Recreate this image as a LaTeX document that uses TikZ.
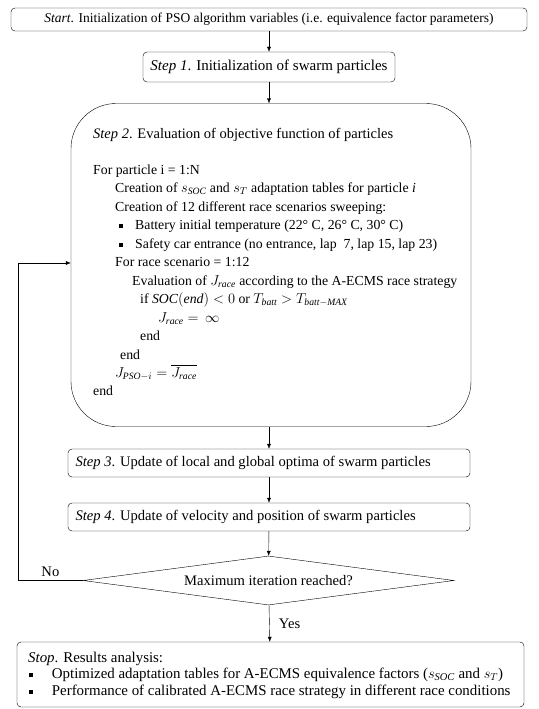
\documentclass[tikz,border=0pt]{standalone}
\usepackage{amsmath,amssymb}
\usepackage{fontspec}
\setmainfont{Liberation Serif}
\usetikzlibrary{positioning,arrows.meta,shapes}
\newcommand{\bul}[1][16pt]{\makebox[#1][l]{\rule[1.5pt]{4pt}{4pt}}}
\def\Jr{J_{\mathit{race}}}

\begin{document}
\begin{tikzpicture}[x=1pt, y=1pt, >={Latex[width=4pt,length=5pt]}, font=\fontsize{14.6}{17}\selectfont,
	box/.style={draw, rounded corners=4pt, inner sep=0pt, thin},
	line/.style={anchor=base west, inner sep=0pt, font=\fontsize{13.8}{16}\selectfont},
	stopline/.style={anchor=base west, inner sep=0pt, font=\fontsize{14.9}{17}\selectfont}]
	\useasboundingbox (0,0) rectangle (538,-709);
	\draw (269.0, -19.5)node[box, minimum width=516, minimum height=23, font=\fontsize{13.5}{15}\selectfont](start){\textit{Start}. Initialization of PSO algorithm variables (i.e. equivalence factor parameters)};
	\draw (269.0, -67.0)node[box, minimum width=252, minimum height=30, font=\fontsize{15}{17}\selectfont](s1){\textit{Step 1}. Initialization of swarm particles};
	\draw (271.0, -265.0)node[draw, thin, rounded corners=45pt, minimum width=400, minimum height=323](s2){};
	\draw (269.0, -463.0)node[box, minimum width=402, minimum height=28](s3){\makebox[387pt][l]{\textit{Step 3}. Update of local and global optima of swarm particles}};
	\draw (269.0, -517.0)node[box, minimum width=402, minimum height=28](s4){\makebox[387pt][l]{\textit{Step 4}. Update of velocity and position of swarm particles}};
	\draw (268.5, -580.5)node[diamond, draw, thin, inner sep=0pt, aspect=7.6, minimum width=371, minimum height=49](dec){Maximum iteration reached?};
	\draw (270.5, -674.5)node[box, minimum width=507, minimum height=65](stop){};
	% text of step 2
	\draw (93, -138.5)node[line, font=\fontsize{14.5}{17}\selectfont](h2){\textit{Step 2}. Evaluation of objective function of particles};
	\draw (93, -174.0)node[line](l1){For particle i = 1:N};
	\draw (115, -192.5)node[line](l2){Creation of $s_{\mathit{SOC}}$ and $s_T$ adaptation tables for particle \textit{i}};
	\draw (115, -211.0)node[line](l3){Creation of 12 different race scenarios sweeping:};
	\draw (119, -229.5)node[line](l4){\bul Battery initial temperature (22° C, 26° C, 30° C)};
	\draw (119, -248.0)node[line](l5){\bul Safety car entrance (no entrance, lap~~7, lap 15, lap 23)};
	\draw (115, -266.5)node[line](l6){For race scenario = 1:12};
	\draw (132, -285.0)node[line](l7){Evaluation of $\Jr$ according to the A-ECMS race strategy};
	\draw (140, -303.5)node[line](l8){if $\mathit{SOC}(\mathit{end})<0$ or $T_{\mathit{batt}}>T_{\mathit{batt}-\mathit{MAX}}$};
	\draw (158, -322.0)node[line](l9){$\Jr=\,\infty$};
	\draw (140, -340.5)node[line](l10){end};
	\draw (120, -359.0)node[line](l11){end};
	\draw (115, -377.5)node[line](l12){$J_{\mathit{PSO}-i}=\overline{\Jr}$};
	\draw (93, -395.0)node[line](l13){end};
	% text of stop
	\draw (28, -662.0)node[stopline](t1){\textit{Stop}. Results analysis:};
	\draw (29, -678.5)node[stopline](t2){\bul[19pt] Optimized adaptation tables for A-ECMS equivalence factors ($s_{\mathit{SOC}}$ and $s_T$)};
	\draw (29, -695.0)node[stopline](t3){\bul[19pt] Performance of calibrated A-ECMS race strategy in different race conditions};
	\coordinate (back) at (18, -263);
	\path[->] (start) edge (s1);
	\path[->] (s1) edge (s1 |- s2.north);
	\path[->] (s3 |- s2.south) edge (s3);
	\path[->] (s3) edge (s4);
	\path[->] (s4) edge (dec);
	\path[->] (dec) edge node[right=6pt]{Yes}(stop);
	\draw[->] (dec.west) -| node[pos=0.25, above]{No} (back) -- (back -| s2.west);
	\end{tikzpicture}
\end{document}
